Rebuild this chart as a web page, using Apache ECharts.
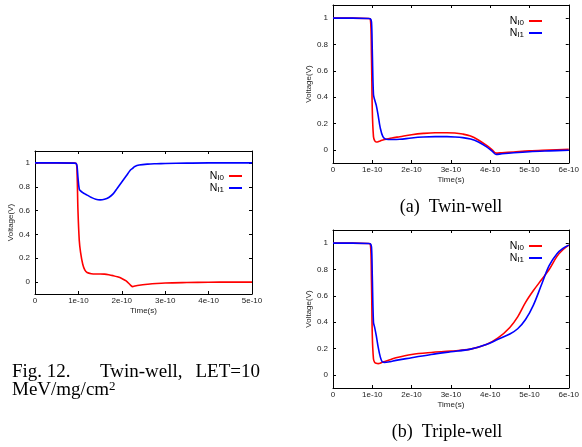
<!DOCTYPE html>
<html>
<head>
<meta charset="utf-8">
<script src="https://cdn.jsdelivr.net/npm/echarts@6/dist/echarts.min.js"></script>
<style>
  html, body { margin: 0; padding: 0; background: #fff; }
  #main { width: 582px; height: 447px; }
</style>
</head>
<body>
<div id="main"></div>
<script>
// time in units of 1e-10 s
var timeFig12 = [0, 0.5, 0.9, 0.95, 0.97, 0.99, 1.02, 1.05, 1.1, 1.15, 1.2, 1.3, 1.4, 1.5, 1.6, 1.7, 1.8, 1.9, 2.0, 2.1, 2.2, 2.25, 2.3, 2.4, 2.6, 2.8, 3.0, 3.5, 4.0, 4.5, 5.0];
var fig12NI0 = [1.0, 1.0, 0.998, 0.995, 0.9, 0.6, 0.35, 0.25, 0.15, 0.1, 0.08, 0.07, 0.068, 0.068, 0.067, 0.062, 0.054, 0.044, 0.03, 0.01, -0.025, -0.038, -0.033, -0.026, -0.018, -0.012, -0.008, -0.004, -0.001, 0.0, 0.0];
var fig12NI1 = [1.0, 1.0, 0.998, 0.995, 0.97, 0.88, 0.78, 0.765, 0.75, 0.74, 0.73, 0.71, 0.695, 0.69, 0.695, 0.71, 0.74, 0.79, 0.84, 0.89, 0.94, 0.955, 0.97, 0.982, 0.99, 0.993, 0.995, 0.998, 1.0, 1.0, 1.0];

var timeTwin = [0, 0.5, 0.9, 0.95, 0.98, 1.0, 1.03, 1.06, 1.1, 1.15, 1.2, 1.27, 1.35, 1.5, 1.7, 2.0, 2.3, 2.6, 2.9, 3.1, 3.3, 3.5, 3.7, 3.9, 4.05, 4.15, 4.3, 4.6, 5.0, 5.5, 6.0];
var twinNI0 = [1, 1, 0.998, 0.995, 0.7, 0.3, 0.1, 0.07, 0.06, 0.062, 0.068, 0.075, 0.08, 0.09, 0.1, 0.115, 0.125, 0.13, 0.13, 0.128, 0.12, 0.105, 0.075, 0.035, 0.0, -0.025, -0.022, -0.016, -0.008, -0.002, 0.004];
var twinNI1 = [1, 1, 0.998, 0.995, 0.97, 0.75, 0.42, 0.38, 0.34, 0.26, 0.17, 0.1, 0.08, 0.078, 0.08, 0.09, 0.097, 0.1, 0.1, 0.098, 0.093, 0.082, 0.06, 0.025, -0.01, -0.035, -0.03, -0.022, -0.014, -0.008, -0.003];

var timeTriple = [0, 0.5, 0.9, 0.95, 0.98, 1.0, 1.03, 1.06, 1.1, 1.15, 1.2, 1.25, 1.3, 1.45, 1.6, 2.0, 2.5, 3.0, 3.5, 3.9, 4.2, 4.5, 4.7, 4.9, 5.1, 5.3, 5.5, 5.7, 5.85, 6.0];
var tripleNI0 = [1, 1, 0.998, 0.995, 0.7, 0.3, 0.12, 0.095, 0.088, 0.085, 0.088, 0.095, 0.1, 0.115, 0.13, 0.155, 0.17, 0.18, 0.195, 0.23, 0.28, 0.36, 0.44, 0.55, 0.64, 0.72, 0.8, 0.9, 0.95, 0.985];
var tripleNI1 = [1, 1, 0.998, 0.995, 0.97, 0.75, 0.4, 0.36, 0.3, 0.21, 0.14, 0.1, 0.095, 0.1, 0.11, 0.13, 0.155, 0.175, 0.195, 0.23, 0.27, 0.31, 0.35, 0.42, 0.53, 0.68, 0.83, 0.92, 0.96, 0.985];

var voltTicks = [0, 0.2, 0.4, 0.6, 0.8, 1];

var chart = echarts.init(document.getElementById('main'));

function pairs(t, v) {
    return t.map(function (x, i) { return [x, v[i]]; });
}

var xAxes = [], yAxes = [], series = [];
var tickFont = { fontFamily: 'Liberation Sans', fontSize: 8, color: '#222' };

function addPanel(g, xMax, t, red, blue) {
    var common = {
        gridIndex: g,
        axisLine: { show: true, onZero: false, lineStyle: { color: '#000', width: 1 } },
        axisTick: { show: true, inside: true, length: 3, lineStyle: { color: '#000' } },
        splitLine: { show: false }
    };
    xAxes.push(Object.assign({}, common, {
        type: 'value', position: 'bottom', min: 0, max: xMax, interval: 1,
        name: 'Time(s)', nameLocation: 'middle', nameGap: 13,
        nameTextStyle: { fontFamily: 'Liberation Sans', fontSize: 8, color: '#222' },
        axisLabel: Object.assign({ margin: 3, formatter: function (v) { return v === 0 ? '0' : v + 'e-10'; } }, tickFont)
    }));
    xAxes.push(Object.assign({}, common, {
        type: 'value', position: 'top', min: 0, max: xMax, interval: 1,
        axisLabel: { show: false }
    }));
    yAxes.push(Object.assign({}, common, {
        type: 'value', position: 'left', min: -0.1, max: 1.1,
        name: 'Voltage(V)', nameLocation: 'middle', nameGap: 20,
        nameTextStyle: { fontFamily: 'Liberation Sans', fontSize: 8, color: '#222' },
        axisTick: { show: true, inside: true, length: 3, lineStyle: { color: '#000' }, customValues: voltTicks },
        axisLabel: Object.assign({ margin: 5, customValues: voltTicks }, tickFont)
    }));
    yAxes.push(Object.assign({}, common, {
        type: 'value', position: 'right', min: -0.1, max: 1.1,
        axisTick: { show: true, inside: true, length: 3, lineStyle: { color: '#000' }, customValues: voltTicks },
        axisLabel: { show: false }
    }));
    var xi = g * 2, yi = g * 2;
    series.push({
        name: 'NI0', type: 'line', xAxisIndex: xi, yAxisIndex: yi,
        data: pairs(t, red), symbol: 'none', smooth: 0.35,
        lineStyle: { color: '#ff0000', width: 1.6 }, itemStyle: { color: '#ff0000' }, z: 3
    });
    series.push({
        name: 'NI1', type: 'line', xAxisIndex: xi, yAxisIndex: yi,
        data: pairs(t, blue), symbol: 'none', smooth: 0.35,
        lineStyle: { color: '#0000ff', width: 1.6 }, itemStyle: { color: '#0000ff' }, z: 4
    });
}

addPanel(0, 5, timeFig12, fig12NI0, fig12NI1);
addPanel(1, 6, timeTwin, twinNI0, twinNI1);
addPanel(2, 6, timeTriple, tripleNI0, tripleNI1);

function legendAt(right, top) {
    return {
        orient: 'vertical', right: right, top: top, align: 'right',
        icon: 'rect', itemWidth: 13, itemHeight: 2, itemGap: 1,
        data: ['NI0', 'NI1'],
        formatter: function (n) { return '{n|N}{s|' + n.slice(1) + '}'; },
        textStyle: {
            padding: [0, 0, 0, 0],
            rich: {
                n: { fontFamily: 'Liberation Sans', fontSize: 10.5, lineHeight: 12, color: '#000', verticalAlign: 'bottom' },
                s: { fontFamily: 'Liberation Sans', fontSize: 8, lineHeight: 12, color: '#000', verticalAlign: 'bottom' }
            }
        }
    };
}

var serif = 'Liberation Serif';
var capFont = '19px ' + serif;
var subCapFont = '18px ' + serif;

chart.setOption({
    animation: false,
    grid: [
        { left: 35, top: 151, width: 217, height: 143 },
        { left: 333, top: 5, width: 240, height: 158 },
        { left: 333, top: 230, width: 240, height: 158 }
    ],
    xAxis: xAxes,
    yAxis: yAxes,
    legend: [legendAt(335, 166), legendAt(35, 11), legendAt(35, 236)],
    series: series,
    graphic: [
        { type: 'text', left: 12, top: 363, style: { text: 'Fig. 12.', font: capFont, fill: '#000' } },
        { type: 'text', left: 100, top: 363, style: { text: 'Twin-well,', font: capFont, fill: '#000' } },
        { type: 'text', right: 322, top: 363, style: { text: 'LET=10', font: capFont, fill: '#000' } },
        { type: 'text', left: 12, top: 380, style: {
            text: '{a|MeV/mg/cm}{b|2}',
            rich: {
                a: { fontFamily: serif, fontSize: 19, color: '#000' },
                b: { fontFamily: serif, fontSize: 13, color: '#000', verticalAlign: 'top', padding: [0, 0, 8, 0] }
            }
        } },
        { type: 'text', x: 451, y: 207, style: { text: '(a)  Twin-well', font: subCapFont, fill: '#000', align: 'center', verticalAlign: 'middle' } },
        { type: 'text', x: 447, y: 432, style: { text: '(b)  Triple-well', font: subCapFont, fill: '#000', align: 'center', verticalAlign: 'middle' } }
    ]
});
</script>
</body>
</html>
